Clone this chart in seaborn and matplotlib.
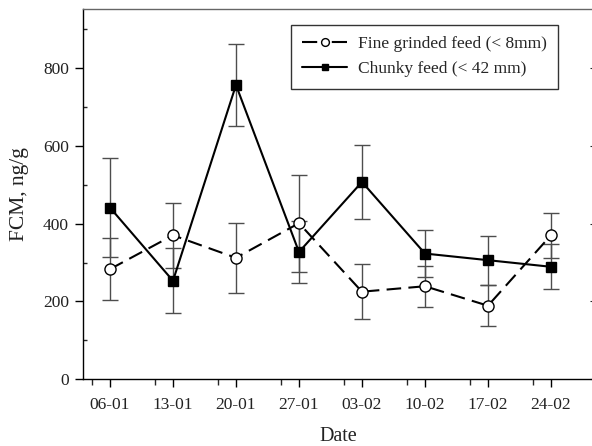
import numpy as np
import pandas as pd
import matplotlib
matplotlib.use("Agg")
import matplotlib.pyplot as plt
import seaborn as sns
from matplotlib.ticker import FixedLocator, MultipleLocator

# --- Data ---
dates = ["06-01", "13-01", "20-01", "27-01", "03-02", "10-02", "17-02", "24-02"]

fine_mean = [283, 370, 312, 401, 225, 239, 189, 370]
fine_err = [80, 83, 90, 125, 71, 53, 52, 58]

chunky_mean = [441, 253, 756, 327, 507, 323, 306, 289]
chunky_err = [127, 83, 106, 79, 96, 60, 63, 58]

fine_label = "Fine grinded feed (< 8mm)"
chunky_label = "Chunky feed (< 42 mm)"

# --- Style ---
sns.set_style("ticks")
plt.rcParams["font.family"] = ["Liberation Serif", "DejaVu Serif"]
FS = 12.5
LABEL_FS = 14.5
plt.rcParams["font.size"] = FS

x = np.arange(len(dates))
df = pd.DataFrame({
    "x": np.concatenate([x, x]),
    "FCM": fine_mean + chunky_mean,
    "feed": [fine_label] * len(x) + [chunky_label] * len(x),
})

fig = plt.figure(figsize=(5.92, 4.46), dpi=100)
ax = fig.add_axes([0.1402, 0.1496, 0.8628, 0.8291])

# error bars behind the markers
ax.errorbar(x, fine_mean, yerr=fine_err, fmt="none", ecolor="0.3",
            elinewidth=1.0, capsize=6, capthick=1.0, zorder=1)
ax.errorbar(x, chunky_mean, yerr=chunky_err, fmt="none", ecolor="0.3",
            elinewidth=1.0, capsize=6, capthick=1.0, zorder=1)

sns.lineplot(data=df[df["feed"] == fine_label], x="x", y="FCM", ax=ax,
             color="black", linestyle=(0, (7, 3.5)), linewidth=1.5,
             marker="o", markersize=8, markerfacecolor="white",
             markeredgecolor="black", markeredgewidth=1.0,
             label=fine_label, zorder=3)
sns.lineplot(data=df[df["feed"] == chunky_label], x="x", y="FCM", ax=ax,
             color="black", linestyle="-", linewidth=1.5,
             marker="s", markersize=7, markerfacecolor="black",
             markeredgecolor="black", markeredgewidth=1.0,
             label=chunky_label, zorder=4)

# --- Axes ---
ax.set_xlim(-0.4286, 7.68)
ax.set_ylim(0, 950)
ax.set_xticks(x)
ax.set_xticklabels(dates)
ax.xaxis.set_minor_locator(FixedLocator(x - 0.286))
ax.set_yticks([0, 200, 400, 600, 800])
ax.yaxis.set_minor_locator(MultipleLocator(100))

ax.tick_params(axis="both", which="major", direction="out", length=6,
               width=1.0, color="black", labelsize=FS, labelcolor="#222222")
ax.tick_params(axis="y", which="minor", direction="in", length=3, width=1.0)
ax.tick_params(axis="x", which="minor", direction="out", length=4, width=1.0)
ax.tick_params(axis="x", which="major", pad=7)
ax.tick_params(axis="y", which="major", pad=4)

# inward ticks on the right edge
ax_r = ax.secondary_yaxis("right")
ax_r.set_yticks([0, 200, 400, 600, 800])
ax_r.tick_params(direction="in", length=3, labelright=False)

for side in ["top", "right", "left", "bottom"]:
    ax.spines[side].set_visible(True)
    ax.spines[side].set_color("black")
    ax.spines[side].set_linewidth(1.0)
ax.spines["top"].set_color("0.4")
ax_r.spines["right"].set_visible(False)

ax.set_xlabel("Date", fontsize=LABEL_FS, labelpad=10, color="#222222")
ax.set_ylabel("FCM, ng/g", fontsize=15.5, labelpad=10, color="#222222")

leg = ax.legend(loc="upper right", bbox_to_anchor=(0.930, 0.958),
                borderaxespad=0, frameon=True, fancybox=False,
                edgecolor="black", handlelength=2.6, handletextpad=0.6,
                borderpad=0.65, labelspacing=0.5, fontsize=FS,
                markerscale=0.7)
leg.get_frame().set_linewidth(1.0)
# dash - marker - dash look for the dashed handle
leg.get_lines()[0].set_linestyle((0, (7.3, 7)))

fig.savefig("out.png", dpi=100)
